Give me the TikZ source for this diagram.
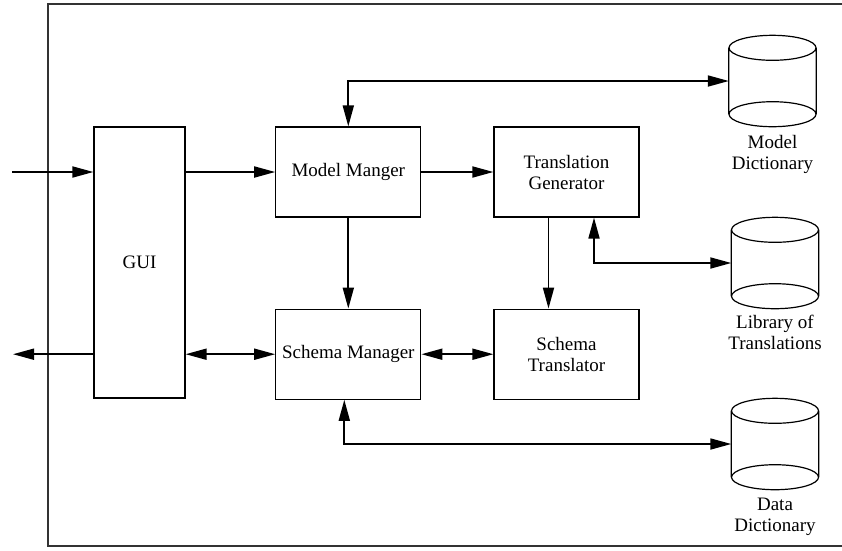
\documentclass[tikz,border=0pt]{standalone}
\usepackage{fontspec}
\setmainfont{Liberation Serif}
\usetikzlibrary{positioning,arrows.meta}

\begin{document}
\begin{tikzpicture}[x=1pt,y=-1pt,
 font=\fontsize{19}{21}\selectfont,
 >={Triangle[length=21pt,width=11pt]},
 box/.style={draw,line width=1.2pt,minimum width=145pt,minimum height=90pt,align=center,inner sep=2pt},
 db/.style={minimum width=87pt,minimum height=66pt,inner sep=0pt},
 dblabel/.style={align=center,inner sep=2pt},
 link/.style={line width=1.8pt}]
 \useasboundingbox (0,0) rectangle (842,550);
 \draw[line width=1.2pt,black!80] (842,4) -| (48,546) -- (842,546);

 \node[box,minimum width=91pt,minimum height=271pt] (gui) at (139.5,262.5) {GUI};
 \node[box] (modelmgr) at (348.3,172) {Model Manger};
 \node[box,right=72pt of modelmgr] (transgen) {Translation\\Generator};
 \node[box,below=91pt of modelmgr] (schemamgr) {Schema Manager};
 \node[box,below=91pt of transgen] (schematr) {Schema\\Translator};

% repositories
 \node[db] (modeldict) at (772.5,81) {};
 \node[db] (libtrans) at (775,263) {};
 \node[db] (datadict) at (775,444) {};
 \foreach \d in {modeldict,libtrans,datadict} {
  \draw[line width=1.2pt] (\d.north) ellipse [x radius=43.5pt,y radius=12.5pt]
   (\d.south) ellipse [x radius=43.5pt,y radius=12.5pt]
   (\d.north west) -- (\d.south west)
   (\d.north east) -- (\d.south east);
 }
 \node[dblabel,below=19pt of modeldict] (modeldictlabel) {Model\\Dictionary};
 \node[dblabel,below=17pt of libtrans] (libtranslabel) {Library of\\Translations};
 \node[dblabel,below=19pt of datadict] (datadictlabel) {Data\\Dictionary};

 \coordinate (source) at (12,172);
 \coordinate (sink) at (13,353);

 \draw [->,link] (source) -- (source -| gui.west);
 \draw [->,link] (gui.east |- modelmgr) -- (modelmgr);
 \draw [->,link] (modelmgr) -- (transgen);
 \draw [->,link] (modelmgr) -- (schemamgr);
 \draw [->,link] ([xshift=-18pt]transgen.south) -- ([xshift=-18pt]schematr.north);
 \draw [<->,link] (modelmgr) |- (modeldict);
 \draw [<->,link] ([xshift=27.5pt]transgen.south) |- (libtrans);
 \draw [<->,link] (gui.east |- schemamgr) -- (schemamgr);
 \draw [<->,link] (schemamgr) -- (schematr);
 \draw [<->,link] ([xshift=-4pt]schemamgr.south) |- (datadict);
 \draw [->,link] (gui.west |- schemamgr) -- (schemamgr -| sink);
\end{tikzpicture}
\end{document}
